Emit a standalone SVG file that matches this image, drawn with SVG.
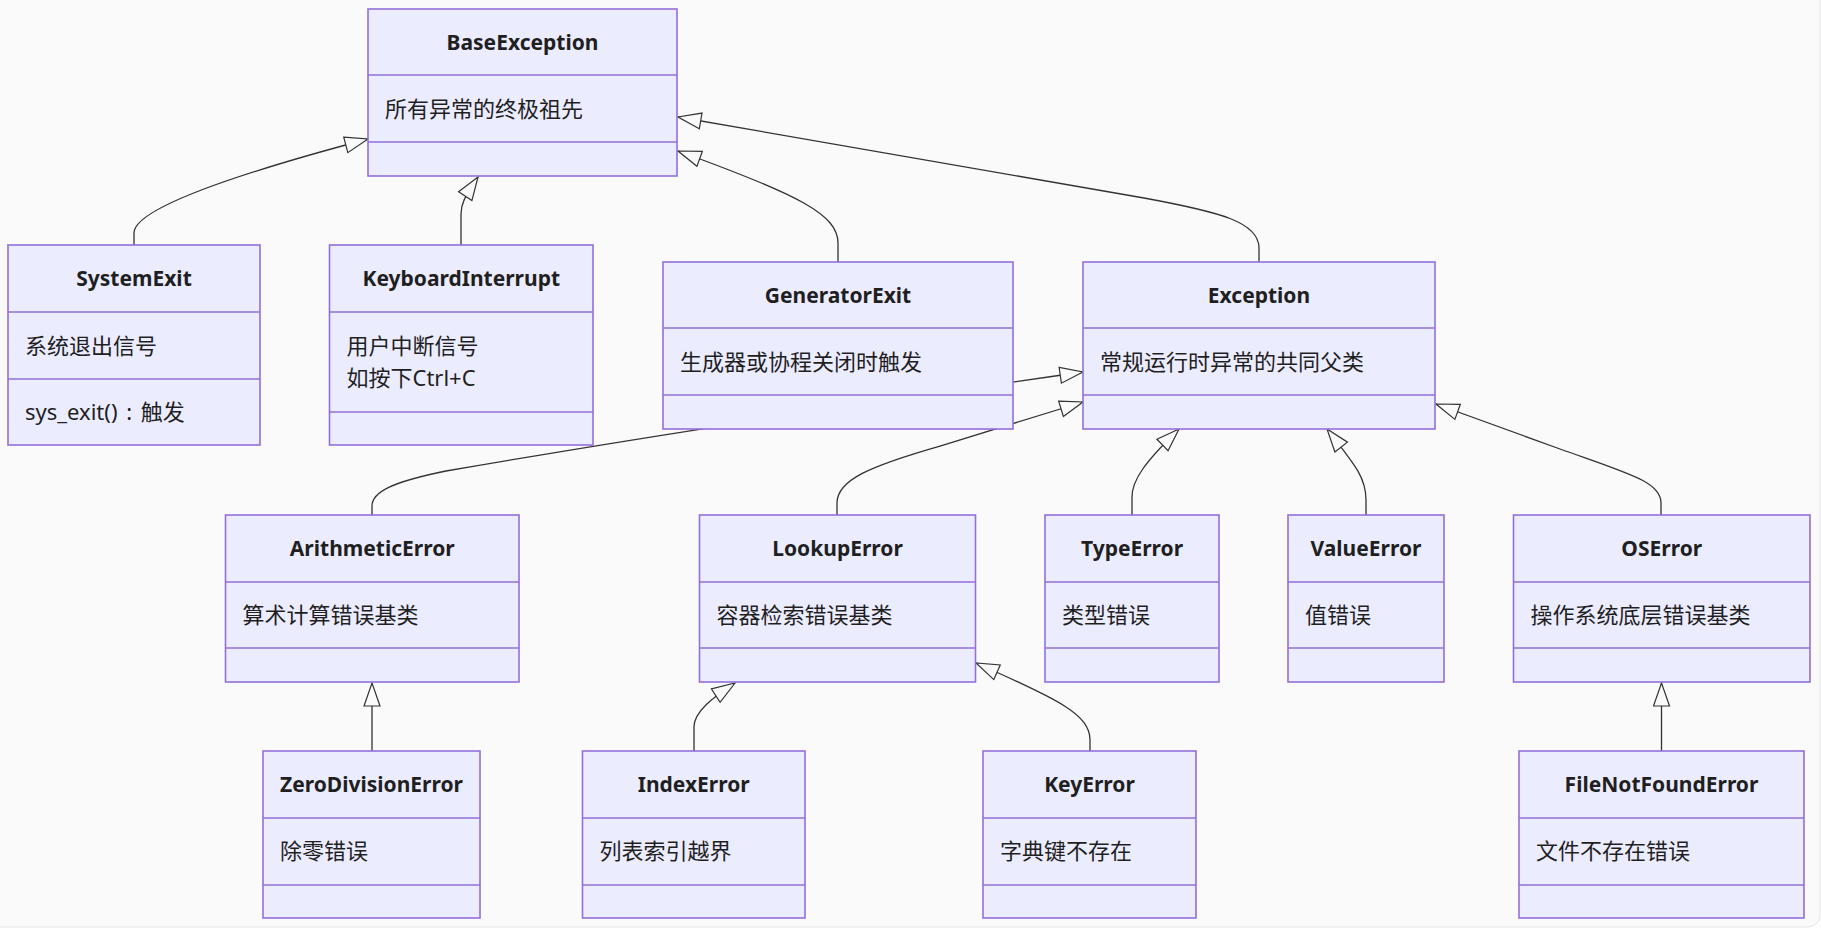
<svg xmlns="http://www.w3.org/2000/svg" width="1821" height="930" viewBox="0 0 1821 930">
<style>
.bg{fill:#fafafa;stroke:#e6e6e6;stroke-width:1}
.box{fill:#ECECFF;stroke:#9370DB;stroke-width:1.6}
.div{stroke:#9370DB;stroke-width:1.6}
.title{font-family:"Noto Sans","Noto Sans CJK SC",sans-serif;font-weight:bold;font-size:21px;fill:#1f1f1f;text-anchor:middle}
.body{font-family:"Noto Sans","Noto Sans CJK SC",sans-serif;font-size:22px;fill:#1f1f1f}
.edge{fill:none;stroke:#333;stroke-width:1.3;marker-end:url(#ext)}
</style>
<defs>
<marker id="ext" markerUnits="userSpaceOnUse" viewBox="0 0 26 20" markerWidth="26" markerHeight="20" refX="24" refY="9" orient="auto">
<path d="M1,1 L24,9 L1,17 Z" fill="#fafafa" stroke="#333" stroke-width="1.2"/>
</marker>
</defs>
<rect class="bg" x="-12" y="-12" width="1832" height="939" rx="12"/>
<g id="connectors">
<path class="edge" d="M134,245 V233 C134,205 270,165 368,139"/>
<path class="edge" d="M461,245 V214 C461,204 464,198 478,177"/>
<path class="edge" d="M838,262 V243 C838,215 800,195 678,151"/>
<path class="edge" d="M1259,262 V248 C1259,222 1220,212 1144,198 L678,117"/>
<path class="edge" d="M372,515 V506 C372,492 392,482 446,471 C590,446 790,414 1083,372"/>
<path class="edge" d="M837,515 V503 C837,480 870,466 940,446 L1083,402"/>
<path class="edge" d="M1132,515 V497 C1132,480 1145,462 1179,429"/>
<path class="edge" d="M1366,515 V500 C1366,478 1356,466 1327,429"/>
<path class="edge" d="M1661,515 V503 C1661,482 1630,474 1560,449 L1436,404"/>
<path class="edge" d="M372,751 V683"/>
<path class="edge" d="M694,751 V727 C694,712 712,698 735,683"/>
<path class="edge" d="M1090,751 V740 C1090,715 1060,700 976,663"/>
<path class="edge" d="M1661.5,751 V683"/>
</g>
<g id="BaseException">
<rect class="box" x="368" y="9" width="309" height="167"/>
<line class="div" x1="368" y1="75" x2="677" y2="75"/><line class="div" x1="368" y1="142" x2="677" y2="142"/>
<text class="title" x="522.5" y="50">BaseException</text>
<text class="body" x="385" y="116.5">所有异常的终极祖先</text>
</g>
<g id="SystemExit">
<rect class="box" x="8" y="245" width="252" height="200"/>
<line class="div" x1="8" y1="312" x2="260" y2="312"/><line class="div" x1="8" y1="379" x2="260" y2="379"/>
<text class="title" x="134" y="286">SystemExit</text>
<text class="body" x="25" y="354">系统退出信号</text>
<text class="body" x="25" y="420" style="word-spacing:3px">sys_exit() : 触发</text>
</g>
<g id="KeyboardInterrupt">
<rect class="box" x="329.5" y="245" width="263.5" height="200"/>
<line class="div" x1="329.5" y1="312" x2="593" y2="312"/><line class="div" x1="329.5" y1="412" x2="593" y2="412"/>
<text class="title" x="461.25" y="286">KeyboardInterrupt</text>
<text class="body" x="346.5" y="354">用户中断信号</text>
<text class="body" x="346.5" y="386">如按下Ctrl+C</text>
</g>
<g id="GeneratorExit">
<rect class="box" x="663" y="262" width="350" height="167"/>
<line class="div" x1="663" y1="328" x2="1013" y2="328"/><line class="div" x1="663" y1="395" x2="1013" y2="395"/>
<text class="title" x="838" y="303">GeneratorExit</text>
<text class="body" x="680" y="369.5">生成器或协程关闭时触发</text>
</g>
<g id="Exception">
<rect class="box" x="1083" y="262" width="352" height="167"/>
<line class="div" x1="1083" y1="328" x2="1435" y2="328"/><line class="div" x1="1083" y1="395" x2="1435" y2="395"/>
<text class="title" x="1259" y="303">Exception</text>
<text class="body" x="1100" y="369.5">常规运行时异常的共同父类</text>
</g>
<g id="ArithmeticError">
<rect class="box" x="225.5" y="515" width="293.5" height="167"/>
<line class="div" x1="225.5" y1="582" x2="519" y2="582"/><line class="div" x1="225.5" y1="648" x2="519" y2="648"/>
<text class="title" x="372.25" y="556">ArithmeticError</text>
<text class="body" x="242.5" y="623">算术计算错误基类</text>
</g>
<g id="LookupError">
<rect class="box" x="699.5" y="515" width="276" height="167"/>
<line class="div" x1="699.5" y1="582" x2="975.5" y2="582"/><line class="div" x1="699.5" y1="648" x2="975.5" y2="648"/>
<text class="title" x="837.5" y="556">LookupError</text>
<text class="body" x="716.5" y="623">容器检索错误基类</text>
</g>
<g id="TypeError">
<rect class="box" x="1045" y="515" width="174" height="167"/>
<line class="div" x1="1045" y1="582" x2="1219" y2="582"/><line class="div" x1="1045" y1="648" x2="1219" y2="648"/>
<text class="title" x="1132" y="556">TypeError</text>
<text class="body" x="1062" y="623">类型错误</text>
</g>
<g id="ValueError">
<rect class="box" x="1288" y="515" width="156" height="167"/>
<line class="div" x1="1288" y1="582" x2="1444" y2="582"/><line class="div" x1="1288" y1="648" x2="1444" y2="648"/>
<text class="title" x="1366" y="556">ValueError</text>
<text class="body" x="1305" y="623">值错误</text>
</g>
<g id="OSError">
<rect class="box" x="1513.5" y="515" width="296.5" height="167"/>
<line class="div" x1="1513.5" y1="582" x2="1810" y2="582"/><line class="div" x1="1513.5" y1="648" x2="1810" y2="648"/>
<text class="title" x="1661.75" y="556">OSError</text>
<text class="body" x="1530.5" y="623">操作系统底层错误基类</text>
</g>
<g id="ZeroDivisionError">
<rect class="box" x="263" y="751" width="217" height="167"/>
<line class="div" x1="263" y1="818" x2="480" y2="818"/><line class="div" x1="263" y1="885" x2="480" y2="885"/>
<text class="title" x="371.5" y="792">ZeroDivisionError</text>
<text class="body" x="280" y="859">除零错误</text>
</g>
<g id="IndexError">
<rect class="box" x="582.5" y="751" width="222.5" height="167"/>
<line class="div" x1="582.5" y1="818" x2="805" y2="818"/><line class="div" x1="582.5" y1="885" x2="805" y2="885"/>
<text class="title" x="693.75" y="792">IndexError</text>
<text class="body" x="599.5" y="859">列表索引越界</text>
</g>
<g id="KeyError">
<rect class="box" x="983" y="751" width="213" height="167"/>
<line class="div" x1="983" y1="818" x2="1196" y2="818"/><line class="div" x1="983" y1="885" x2="1196" y2="885"/>
<text class="title" x="1089.5" y="792">KeyError</text>
<text class="body" x="1000" y="859">字典键不存在</text>
</g>
<g id="FileNotFoundError">
<rect class="box" x="1519" y="751" width="285" height="167"/>
<line class="div" x1="1519" y1="818" x2="1804" y2="818"/><line class="div" x1="1519" y1="885" x2="1804" y2="885"/>
<text class="title" x="1661.5" y="792">FileNotFoundError</text>
<text class="body" x="1536" y="859">文件不存在错误</text>
</g>
</svg>
